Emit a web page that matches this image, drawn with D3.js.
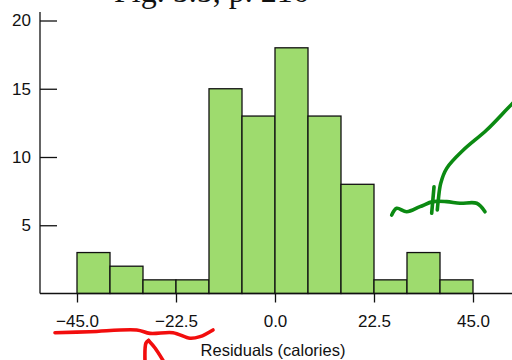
<!DOCTYPE html>
<html>
<head>
<meta charset="utf-8">
<script src="https://cdn.jsdelivr.net/npm/d3@7"></script>
<style>
  html, body { margin: 0; padding: 0; background: #fff; }
  svg { display: block; }
</style>
</head>
<body>
<svg id="chart" width="512" height="360"></svg>
<script>
'use strict';

// bin edges (calories) and counts per bin
var binStarts = [-45, -37.5, -30, -22.5, -15, -7.5, 0, 7.5, 15, 22.5, 30, 37.5];
var binWidth = 7.5;
var counts = [3, 2, 1, 1, 15, 13, 18, 13, 8, 1, 3, 1];

var xTicks = [-45, -22.5, 0, 22.5, 45];
var yTicks = [5, 10, 15, 20];

var titleText = 'Fig. 5.5, p. 216';
var xTitle = 'Residuals (calories)';

// handwritten ink over the page, in data units [calories, count]
var redUnderline = [[-50, -2.87], [-42.05, -2.80], [-31.43, -2.67], [-28.41, -2.92],
    [-23.18, -2.87], [-19.32, -3.28], [-17.05, -3.16], [-14.09, -2.67]];
var redArrowShaft = [[-29.55, -4.9], [-29.32, -3.63], [-28.75, -3.44]];
var redArrowHead = [[-28.75, -3.44], [-27.27, -3.99], [-25.45, -4.9]];
var greenCurve = [[55.68, 14.4], [53.86, 13.88], [48.11, 11.98], [42.8, 10.51],
    [39.02, 9.17], [37.66, 8.07], [37.11, 6.85], [36.89, 6.12]];
var greenTick = [[36.14, 7.82], [35.61, 5.88]];
var greenSquiggle = [[26.52, 5.75], [27.66, 6.24], [29.93, 5.99], [32.95, 6.36],
    [35.91, 6.73], [39.02, 6.73], [42.05, 6.61], [45.84, 6.61], [47.73, 5.99]];


var svg = d3.select('#chart'),
    sans = '"Liberation Sans", Arial, Helvetica, sans-serif',
    axisX = 40,          // y axis position
    baseY = 293.5;       // x axis position

var x = d3.scaleLinear().domain([-45, 45]).range([77, 473]);
var y = d3.scaleLinear().domain([0, 20]).range([baseY, 20.5]);

// title, mostly cut off at the top (as in the scan)
svg.append('text')
    .attr('x', 114)
    .attr('y', 2)
    .style('font-family', '"Liberation Serif", "Times New Roman", serif')
    .style('font-size', '32px')
    .style('fill', '#111')
    .text(titleText);

// bars
svg.append('g')
    .selectAll('rect')
        .data(binStarts)
    .enter().append('rect')
    .attr('x', function(d) { return x(d); })
    .attr('y', function(d, i) { return y(counts[i]); })
    .attr('width', function(d) { return x(d + binWidth) - x(d); })
    .attr('height', function(d, i) { return baseY - y(counts[i]); })
    .style('fill', '#9edb6e')
    .style('stroke', '#111')
    .style('stroke-width', 1.3);

// y axis: ticks point inward
var yAxis = svg.append('g')
    .attr('transform', 'translate(' + axisX + ',0)')
    .call(d3.axisLeft(y).tickValues(yTicks).tickSize(-17).tickPadding(9)
        .tickFormat(d3.format('d')));
yAxis.select('.domain').remove();
yAxis.selectAll('line').style('stroke', '#111').style('stroke-width', 1.3);
yAxis.selectAll('text')
    .style('font-family', sans)
    .style('font-size', '17px')
    .style('fill', '#111');

svg.append('line')
    .attr('x1', axisX).attr('x2', axisX)
    .attr('y1', 12).attr('y2', baseY)
    .style('stroke', '#111')
    .style('stroke-width', 1.3);

// x axis
var xAxis = svg.append('g')
    .attr('transform', 'translate(0,' + baseY + ')')
    .call(d3.axisBottom(x).tickValues(xTicks).tickSize(9).tickPadding(12)
        .tickFormat(d3.format('.1f')));
xAxis.select('.domain').remove();
xAxis.selectAll('line').style('stroke', '#111').style('stroke-width', 1.3);
xAxis.selectAll('text')
    .style('font-family', sans)
    .style('font-size', '17px')
    .style('fill', '#111');

svg.append('line')
    .attr('x1', axisX).attr('x2', 512)
    .attr('y1', baseY).attr('y2', baseY)
    .style('stroke', '#111')
    .style('stroke-width', 1.3);

svg.append('text')
    .attr('x', 273)
    .attr('y', 356)
    .attr('text-anchor', 'middle')
    .style('font-family', sans)
    .style('font-size', '16.5px')
    .style('fill', '#111')
    .text(xTitle);

// pen marks
var ink = d3.line()
    .x(function(d) { return x(d[0]); })
    .y(function(d) { return y(d[1]); })
    .curve(d3.curveCatmullRom);

function drawInk(points, color) {
    svg.append('path')
        .attr('d', ink(points))
        .style('fill', 'none')
        .style('stroke', color)
        .style('stroke-width', 3.6)
        .style('stroke-linecap', 'round')
        .style('stroke-linejoin', 'round');
}

drawInk(redUnderline, '#f20d0d');
drawInk(redArrowShaft, '#f20d0d');
drawInk(redArrowHead, '#f20d0d');
drawInk(greenCurve, '#0b8a12');
drawInk(greenTick, '#0b8a12');
drawInk(greenSquiggle, '#0b8a12');
</script>
</body>
</html>
